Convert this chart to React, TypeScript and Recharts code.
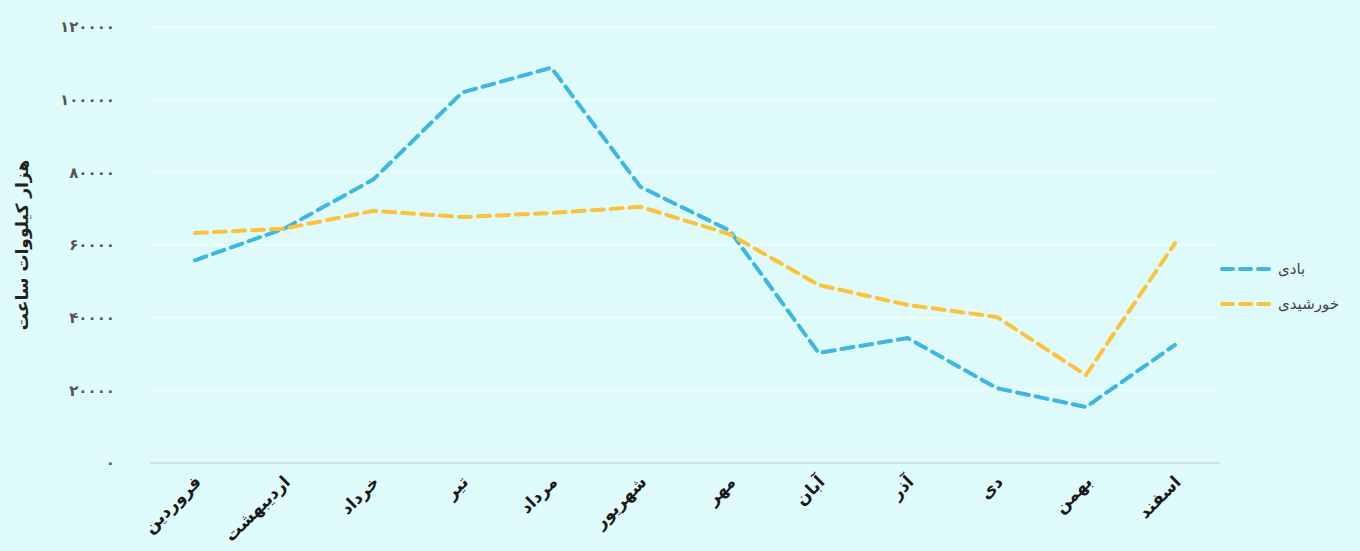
import React from "react";
import { LineChart, Line, XAxis, YAxis, CartesianGrid } from "recharts";

const months = ["فروردین", "اردیبهشت", "خرداد", "تیر", "مرداد", "شهریور", "مهر", "آبان", "آذر", "دی", "بهمن", "اسفند"];
const windValues = [55800, 64500, 78000, 102000, 108800, 76000, 64000, 30300, 34400, 20600, 15400, 32500];
const solarValues = [63300, 64500, 69400, 67700, 68800, 70500, 63000, 49000, 43500, 40200, 24200, 60500];
const yTicks = [0, 20000, 40000, 60000, 80000, 100000, 120000];

const WIND = "#3db7e4";
const SOLAR = "#fbc33d";
const FONT = "'DejaVu Sans', sans-serif";

const data = months.map((m, i) => ({ month: m, wind: windValues[i], solar: solarValues[i] }));

const series = [
  { key: "wind", name: "بادی", color: WIND },
  { key: "solar", name: "خورشیدی", color: SOLAR },
];

const faDigits = "۰۱۲۳۴۵۶۷۸۹";
const toFa = (n: number) => String(n).replace(/\d/g, (d) => faDigits[Number(d)]);

const MonthTick = ({ x, y, payload }: any) => (
  <g transform={`translate(${x + 7},${y + 12})`}>
    <text transform="rotate(-45)" textAnchor="end" fontSize={17} fontWeight={600} fill="#1a1a1a" fontFamily={FONT}>
      {payload.value}
    </text>
  </g>
);

// legend sits to the right of the plot, vertically centred on it
const SeriesLegend = () => (
  <div style={{ position: "absolute", left: 1219, top: 251, fontFamily: FONT, fontSize: 15, color: "#444" }}>
    {series.map((s) => (
      <div key={s.key} style={{ display: "flex", alignItems: "center", height: 35 }}>
        <svg width={54} height={8}>
          <line x1={3} y1={4} x2={51} y2={4} stroke={s.color} strokeWidth={4} strokeDasharray="11 7" strokeLinecap="round" />
        </svg>
        <span style={{ marginLeft: 5 }}>{s.name}</span>
      </div>
    ))}
  </div>
);

export default function App() {
  return (
    <div style={{ position: "absolute", left: 0, top: 0, width: 1360, height: 551, background: "#dffafa" }}>
      <LineChart width={1360} height={551} data={data} margin={{ top: 27, right: 140, bottom: 0, left: 0 }}>
        <CartesianGrid vertical={false} stroke="#f1fcfc" strokeWidth={1.5} />
        <XAxis
          dataKey="month"
          height={88}
          padding={{ left: 45, right: 45 }}
          axisLine={{ stroke: "#c9d6d6", strokeWidth: 1.5 }}
          tickLine={false}
          interval={0}
          tick={<MonthTick />}
        />
        <YAxis
          width={150}
          domain={[0, 120000]}
          ticks={yTicks}
          axisLine={false}
          tickLine={false}
          tickSize={6}
          tickMargin={29}
          tickFormatter={toFa}
          tick={{ fontSize: 15, fontWeight: 600, fill: "#555", fontFamily: FONT }}
          label={{
            value: "هزار کیلووات ساعت",
            angle: -90,
            position: "insideLeft",
            offset: 22,
            style: { textAnchor: "middle", fontSize: 17, fontWeight: "bold", fill: "#222", fontFamily: FONT },
          }}
        />
        {series.map((s) => (
          <Line
            key={s.key}
            name={s.name}
            dataKey={s.key}
            type="linear"
            stroke={s.color}
            strokeWidth={4}
            strokeDasharray="12 7"
            strokeLinecap="round"
            strokeLinejoin="round"
            dot={false}
            activeDot={false}
            isAnimationActive={false}
          />
        ))}
      </LineChart>
      <SeriesLegend />
    </div>
  );
}
